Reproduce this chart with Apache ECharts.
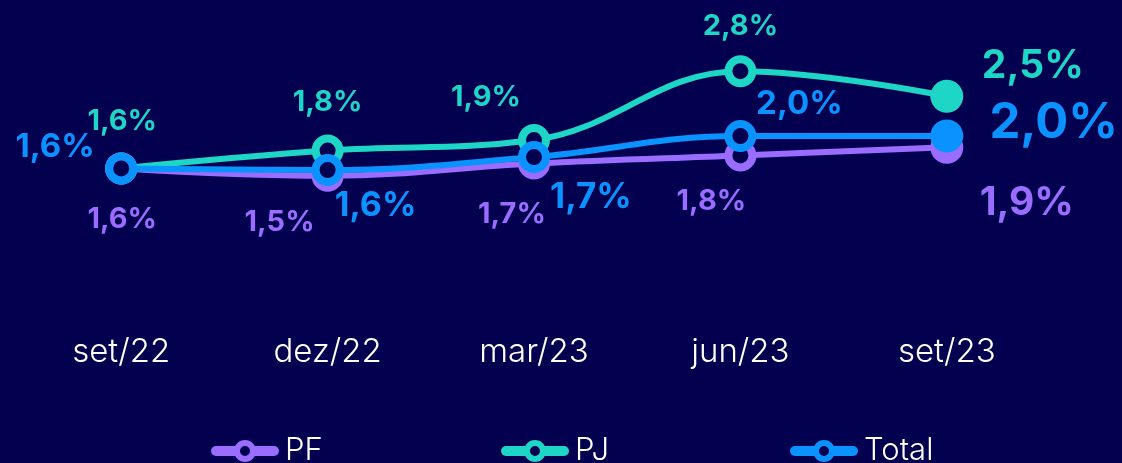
<!DOCTYPE html>
<html>
<head>
<meta charset="utf-8">
<script src="https://cdn.jsdelivr.net/npm/echarts@6/dist/echarts.min.js"></script>
<style>
  html, body { margin: 0; padding: 0; background: #030050; }
  #chart { width: 1122px; height: 463px; }
</style>
</head>
<body>
<div id="chart"></div>
<script>
// dados
var categories = ['set/22', 'dez/22', 'mar/23', 'jun/23', 'set/23'];
var seriesNames = ['PF', 'PJ', 'Total'];
var pfValues = [1.60, 1.51, 1.66, 1.76, 1.86];
var pjValues = [1.60, 1.82, 1.95, 2.80, 2.49];
var totalValues = [1.60, 1.58, 1.74, 2.00, 2.00];

var bg = '#030050';
var colors = { PF: '#9a6cff', PJ: '#1dd6c6', Total: '#0a93ff' };

// posição dos rótulos (offset em px a partir do ponto) e tamanho da fonte
var labelLayout = {
  PF: {
    offset: [[1, 51], [-48, 47], [-22, 51], [-29, 46], [80, 56]],
    size: [29, 29, 29, 29, 39]
  },
  PJ: {
    offset: [[1, -47], [0, -48], [-48, -43], [0, -45], [86, -30]],
    size: [29, 29, 29, 29, 39]
  },
  Total: {
    offset: [[-66, -21], [48, 36], [57, 40], [59, -32], [107, -13]],
    size: [33, 34, 35, 33, 49]
  }
};
var legendLeft = [206, 496, 785];

function fmt(v) {
  return v.toFixed(1).replace('.', ',') + '%';
}

function buildData(name, values) {
  var lay = labelLayout[name];
  return values.map(function (v, i) {
    var item = {
      value: v,
      label: {
        offset: lay.offset[i],
        fontSize: lay.size[i]
      }
    };
    if (i === values.length - 1) {
      item.symbol = 'circle';
      item.symbolSize = 33;
      item.itemStyle = { color: colors[name], borderWidth: 0 };
    }
    return item;
  });
}

function makeSeries(name, values, z) {
  return {
    name: name,
    type: 'line',
    smooth: 0.4,
    z: z,
    data: buildData(name, values),
    symbol: 'circle',
    symbolSize: 24,
    lineStyle: { color: colors[name], width: 6 },
    itemStyle: { color: bg, borderColor: colors[name], borderWidth: 8 },
    label: {
      show: true,
      position: 'inside',
      align: 'center',
      verticalAlign: 'middle',
      color: colors[name],
      fontFamily: 'Inter',
      fontWeight: 'bold',
      formatter: function (p) { return fmt(p.value); }
    },
    emphasis: { disabled: true }
  };
}

var legends = seriesNames.map(function (n, i) {
  return {
    left: legendLeft[i],
    top: 428,
    itemWidth: 58,
    itemHeight: 20,
    itemStyle: { borderWidth: 6 },
    lineStyle: { width: 10, cap: 'round' },
    textStyle: {
      color: '#ffffff', fontFamily: 'Inter', fontWeight: 300,
      fontSize: 31, lineHeight: 36, padding: [0, 0, 0, 6]
    },
    data: [n]
  };
});

var myChart = echarts.init(document.getElementById('chart'));
myChart.setOption({
  backgroundColor: bg,
  animation: false,
  grid: { left: 18, right: 72, top: 55, bottom: 165 },
  xAxis: {
    type: 'category',
    data: categories,
    boundaryGap: true,
    axisLine: { show: false },
    axisTick: { show: false },
    axisLabel: {
      color: '#ffffff',
      fontFamily: 'Inter',
      fontWeight: 300,
      fontSize: 33,
      margin: 38
    }
  },
  yAxis: {
    type: 'value',
    min: 0,
    max: 3,
    show: false,
    splitLine: { show: false }
  },
  legend: legends,
  series: [
    makeSeries('PF', pfValues, 2),
    makeSeries('PJ', pjValues, 3),
    makeSeries('Total', totalValues, 4)
  ]
});
</script>
</body>
</html>
